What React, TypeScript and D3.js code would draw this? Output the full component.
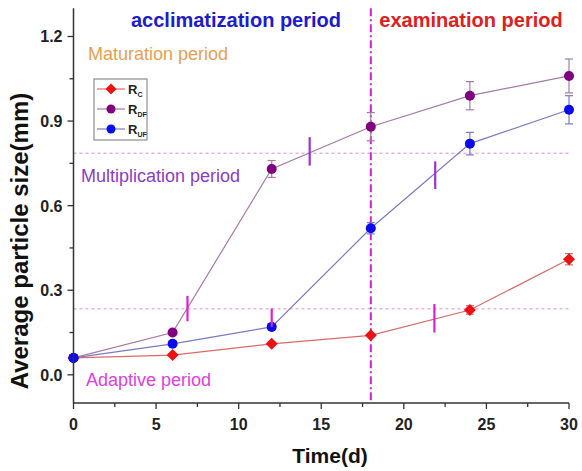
import React from "react";
import * as d3 from "d3";

const days = [0, 6, 12, 18, 24, 30];
const rc = [0.06, 0.07, 0.11, 0.14, 0.23, 0.41];
const rcErr = [0, 0.005, 0.005, 0.008, 0.015, 0.02];
const rdf = [0.06, 0.15, 0.73, 0.88, 0.99, 1.06];
const rdfErr = [0, 0.008, 0.03, 0.05, 0.05, 0.06];
const ruf = [0.06, 0.11, 0.17, 0.52, 0.82, 0.94];
const rufErr = [0, 0.005, 0.01, 0.02, 0.04, 0.05];
const xTicks = [0, 5, 10, 15, 20, 25, 30];
const yTicks = [0.0, 0.3, 0.6, 0.9, 1.2];
const hLines = [0.786, 0.234];
const boundaryX = 18;
// short stage markers: [x, y0, y1, color]
const stageMarks: [number, number, number, string][] = [
  [6.9, 0.19, 0.28, "#e020d0"],
  [12.0, 0.17, 0.235, "#e020d0"],
  [14.3, 0.742, 0.843, "#9a33d6"],
  [21.9, 0.659, 0.757, "#9a33d6"],
  [21.85, 0.15, 0.251, "#e020d0"],
];

const W = 582, H = 471;
const x = d3.scaleLinear().domain([0, 30]).range([73.5, 569]);
const y = d3.scaleLinear().domain([-0.1, 1.3]).range([403, 8.3]);

const series = [
  { name: "C", vals: rc, err: rcErr, marker: "#ee1111", line: "#d86a6a", shape: "diamond" },
  { name: "DF", vals: rdf, err: rdfErr, marker: "#800080", line: "#a67aa6", shape: "circle" },
  { name: "UF", vals: ruf, err: rufErr, marker: "#0a0af0", line: "#7a7ac4", shape: "circle" },
];

function Marker({ cx, cy, shape, color, size = 5 }: any) {
  if (shape === "diamond") {
    const s = size + 1;
    return <path d={`M${cx},${cy - s}L${cx + s},${cy}L${cx},${cy + s}L${cx - s},${cy}Z`} fill={color} />;
  }
  return <circle cx={cx} cy={cy} r={size} fill={color} />;
}

export default function App() {
  const line = d3.line<number>().x((_, i) => x(days[i])).y((v) => y(v));
  const xMinor = d3.range(0, 30.01, 2.5);
  const yMinor = d3.range(0, 1.31, 0.15).filter((v) => v <= 1.3);
  const font = "Arial, 'Liberation Sans', sans-serif";
  return (
    <svg width={W} height={H} style={{ position: "absolute", left: 0, top: 0, background: "#fff" }} fontFamily={font}>
      <rect width={W} height={H} fill="#fff" />
      {hLines.map((v, i) => (
        <line key={i} x1={x(0)} x2={x(30)} y1={y(v)} y2={y(v)} stroke="#e58ad8" strokeWidth={1} strokeDasharray="3,3" />
      ))}
      <line x1={x(boundaryX)} x2={x(boundaryX)} y1={y(1.3)} y2={y(-0.1)} stroke="#cc22cc" strokeWidth={2} strokeDasharray="8,3,2,3" />
      {series.map((s) => (
        <path key={s.name} d={line(s.vals) || ""} fill="none" stroke={s.line} strokeWidth={1.2} />
      ))}
      {series.map((s) =>
        s.vals.map((v, i) =>
          s.err[i] > 0.009 ? (
            <g key={s.name + i} stroke={s.line} strokeWidth={1.2}>
              <line x1={x(days[i])} x2={x(days[i])} y1={y(v - s.err[i])} y2={y(v + s.err[i])} />
              <line x1={x(days[i]) - 4} x2={x(days[i]) + 4} y1={y(v - s.err[i])} y2={y(v - s.err[i])} />
              <line x1={x(days[i]) - 4} x2={x(days[i]) + 4} y1={y(v + s.err[i])} y2={y(v + s.err[i])} />
            </g>
          ) : null
        )
      )}
      {series.map((s) =>
        s.vals.map((v, i) => <Marker key={s.name + "m" + i} cx={x(days[i])} cy={y(v)} shape={s.shape} color={s.marker} />)
      )}
      {stageMarks.map(([sx, a, b, c], i) => (
        <line key={"sm" + i} x1={x(sx)} x2={x(sx)} y1={y(a)} y2={y(b)} stroke={c} strokeWidth={2.2} />
      ))}
      <line x1={x(0)} x2={x(30)} y1={y(-0.1)} y2={y(-0.1)} stroke="#333" strokeWidth={1.5} />
      <line x1={x(0)} x2={x(0)} y1={y(-0.1)} y2={y(1.3)} stroke="#333" strokeWidth={1.5} />
      {xMinor.map((t) => (
        <line key={"xm" + t} x1={x(t)} x2={x(t)} y1={y(-0.1)} y2={y(-0.1) + (t % 5 === 0 ? 6 : 4)} stroke="#333" strokeWidth={1.3} />
      ))}
      {xTicks.map((t) => (
        <text key={"xt" + t} x={x(t)} y={y(-0.1) + 27} textAnchor="middle" fontSize={16} fontWeight="bold" fill="#222">
          {t}
        </text>
      ))}
      {yMinor.map((t, i) => (
        <line key={"ym" + i} x1={x(0)} x2={x(0) - (i % 2 === 0 ? 6 : 4)} y1={y(t)} y2={y(t)} stroke="#333" strokeWidth={1.3} />
      ))}
      {yTicks.map((t) => (
        <text key={"yt" + t} x={x(0) - 11} y={y(t) + 6} textAnchor="end" fontSize={16} fontWeight="bold" fill="#222">
          {t.toFixed(1)}
        </text>
      ))}
      <text x={330} y={463} textAnchor="middle" fontSize={21} fontWeight="bold" fill="#111">Time(d)</text>
      <text transform={`translate(28,${241}) rotate(-90)`} textAnchor="middle" fontSize={24} fontWeight="bold" fill="#111">
        Average particle size(mm)
      </text>
      <text x={236} y={27} textAnchor="middle" fontSize={20} fontWeight="bold" fill="#1c1ccc">acclimatization period</text>
      <text x={471} y={27} textAnchor="middle" fontSize={20} fontWeight="bold" fill="#dd2020">examination period</text>
      <text x={88} y={60} fontSize={18} fill="#e8a050">Maturation period</text>
      <text x={81} y={182} fontSize={18} fill="#8a3cc8">Multiplication period</text>
      <text x={86} y={386} fontSize={18} fill="#e040e0">Adaptive period</text>
      <rect x={94} y={79} width={53} height={61} fill="#fff" stroke="#777" strokeWidth={1} />
      {series.map((s, i) => {
        const ly = 89 + i * 20;
        return (
          <g key={"lg" + s.name}>
            <line x1={97} x2={125} y1={ly} y2={ly} stroke={s.line} strokeWidth={1.2} />
            <Marker cx={111} cy={ly} shape={s.shape} color={s.marker} size={4.5} />
            <text x={128} y={ly + 5} fontSize={13} fontWeight="bold" fill="#222">
              R<tspan fontSize={7} dy={3}>{s.name}</tspan>
            </text>
          </g>
        );
      })}
    </svg>
  );
}
